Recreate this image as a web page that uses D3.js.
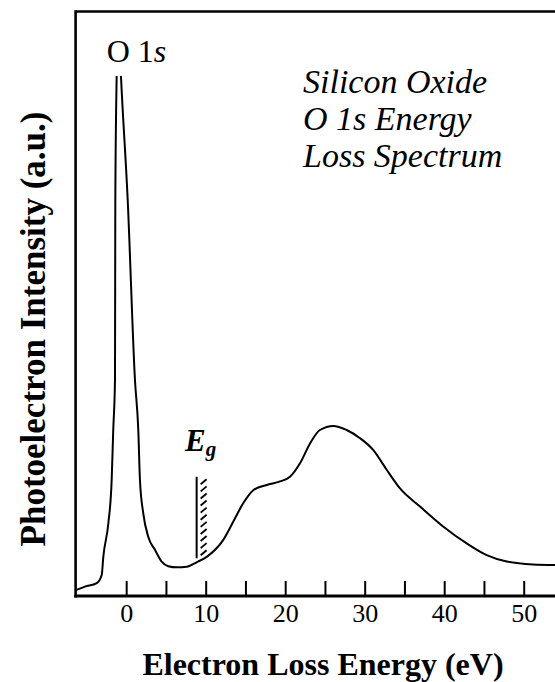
<!DOCTYPE html>
<html>
<head>
<meta charset="utf-8">
<script src="https://cdn.jsdelivr.net/npm/d3@7"></script>
<style>
  html, body { margin: 0; padding: 0; background: #fff; }
  svg { display: block; font-family: "Liberation Serif", "Times New Roman", serif; }
  text { font-family: "Liberation Serif", "Times New Roman", serif; fill: #000; }
</style>
</head>
<body>
<svg id="chart" width="555" height="682"></svg>
<script>
// O 1s energy loss spectrum of silicon oxide (loss energy in eV, intensity in a.u.)
const lossEnergy = [-6.4, -5.25, -3.77, -3.14, -2.94, -2.31, -1.89, -1.69, -1.47, -1.43, -1.26, -1.06,
  -0.72, 0.13, 1.04, 1.46, 1.67, 2.09, 2.72, 3.56, 4.40, 5.23, 6.29, 7.55, 8.84, 10.06, 12.15,
  13.4, 14.67, 15.92, 17.6, 19.28, 20.54, 21.8, 23.06, 24.3, 26.0, 27.67, 29.35, 31.0, 32.7,
  34.38, 36.9, 39.8, 42.77, 45.28, 47.8, 51.1, 54.0];
const intensity = [1.0, 1.6, 2.2, 3.6, 6.7, 12.4, 19.8, 28.4, 37.0, 67.7, 89.0, 99.7,
  89.0, 67.7, 37.0, 28.4, 19.8, 14.1, 10.1, 7.9, 5.9, 5.1, 4.9, 5.0, 5.8, 6.7, 9.6,
  12.7, 15.9, 18.1, 19.0, 19.6, 20.4, 22.7, 26.1, 28.4, 29.1, 28.4, 27.0, 25.0, 21.6,
  18.4, 15.3, 11.9, 9.0, 7.0, 5.9, 5.4, 5.3];

const xTicks = [0, 5, 10, 15, 20, 25, 30, 35, 40, 45, 50];
const xTickLabels = ["0", "", "10", "", "20", "", "30", "", "40", "", "50"];

// Band gap marker
const bandGap = [8.8];
const bandGapRange = [6.45, 20.4];

const serif = '"Liberation Serif", "Times New Roman", serif';
const svg = d3.select("#chart");

const x = d3.scaleLinear().domain([-6.4, 54]).range([75.8, 556]);
const y = d3.scaleLinear().domain([0, 100]).range([596, 11.5]);

const frameLeft = 75.6, frameTop = 11.5, frameBottom = 596;

// Frame: top and left edges
svg.append("line").attr("x1", frameLeft).attr("x2", 560).attr("y1", frameTop).attr("y2", frameTop)
  .attr("stroke", "#000").attr("stroke-width", 2.6);
svg.append("line").attr("x1", frameLeft).attr("x2", frameLeft).attr("y1", frameTop - 1.3).attr("y2", frameBottom + 1.5)
  .attr("stroke", "#000").attr("stroke-width", 2.6);

// Bottom axis with inward ticks
const axis = d3.axisBottom(x).tickValues(xTicks).tickSize(0).tickFormat(() => "");
const gx = svg.append("g").attr("transform", `translate(0,${frameBottom})`).call(axis);
gx.select(".domain").remove();
svg.append("line").attr("x1", frameLeft - 1.3).attr("x2", 560).attr("y1", frameBottom).attr("y2", frameBottom)
  .attr("stroke", "#000").attr("stroke-width", 3);
svg.append("g").selectAll("line").data(xTicks).join("line")
  .attr("x1", d => x(d)).attr("x2", d => x(d))
  .attr("y1", frameBottom).attr("y2", frameBottom - 15)
  .attr("stroke", "#000").attr("stroke-width", 2);
svg.append("g").selectAll("text").data(xTicks).join("text")
  .attr("x", d => x(d)).attr("y", 622)
  .attr("text-anchor", "middle")
  .style("font-family", serif).style("font-size", "26px")
  .text((d, i) => xTickLabels[i]);

// Spectrum, with the elastic peak running off the top
svg.append("clipPath").attr("id", "plotClip")
  .append("rect").attr("x", frameLeft).attr("y", 76).attr("width", 560 - frameLeft).attr("height", frameBottom - 76);

const pts = lossEnergy.map((e, i) => [e, intensity[i]]);
const line = d3.line().x(d => x(d[0])).y(d => y(d[1])).curve(d3.curveMonotoneX);
svg.append("path").datum(pts)
  .attr("clip-path", "url(#plotClip)")
  .attr("d", line)
  .attr("fill", "none").attr("stroke", "#000").attr("stroke-width", 2);

// Band gap marker line and hatching
const eg = svg.append("g");
eg.selectAll("line.eg").data(bandGap).join("line").attr("class", "eg")
  .attr("x1", d => x(d)).attr("x2", d => x(d))
  .attr("y1", y(bandGapRange[1])).attr("y2", y(bandGapRange[0]))
  .attr("stroke", "#000").attr("stroke-width", 2);
const hatchY = d3.range(11).map(i => y(bandGapRange[1]) + 5 + i * 7.1);
eg.selectAll("line.hatch").data(hatchY).join("line").attr("class", "hatch")
  .attr("x1", x(bandGap[0]) + 4).attr("x2", x(bandGap[0]) + 10)
  .attr("y1", d => d + 2.5).attr("y2", d => d - 2.5)
  .attr("stroke", "#000").attr("stroke-width", 1.8);

const egLabel = svg.append("text").attr("x", 185).attr("y", 451)
  .style("font-family", serif)
  .style("font-size", "31px").style("font-weight", "bold").style("font-style", "italic");
egLabel.append("tspan").text("E");
egLabel.append("tspan").attr("dy", 5).style("font-size", "21px").text("g");

// Peak label
const peakLabel = svg.append("text").attr("x", 106.7).attr("y", 62)
  .style("font-family", serif).style("font-size", "32px");
peakLabel.append("tspan").text("O 1");
peakLabel.append("tspan").style("font-style", "italic").text("s");

// Title block
const titleLines = ["Silicon Oxide", "O 1s Energy", "Loss Spectrum"];
svg.append("g").selectAll("text").data(titleLines).join("text")
  .attr("x", 303).attr("y", (d, i) => 93.3 + i * 36.7)
  .style("font-family", serif)
  .style("font-size", "34px").style("font-style", "italic")
  .text(d => d);

// Axis titles
svg.append("text").attr("x", 323).attr("y", 675)
  .attr("text-anchor", "middle")
  .style("font-family", serif)
  .style("font-size", "32px").style("font-weight", "bold")
  .text("Electron Loss Energy (eV)");
svg.append("text")
  .attr("transform", "translate(45,329) rotate(-90)")
  .attr("text-anchor", "middle")
  .style("font-family", serif)
  .style("font-size", "35px").style("font-weight", "bold")
  .text("Photoelectron Intensity (a.u.)");
</script>
</body>
</html>
